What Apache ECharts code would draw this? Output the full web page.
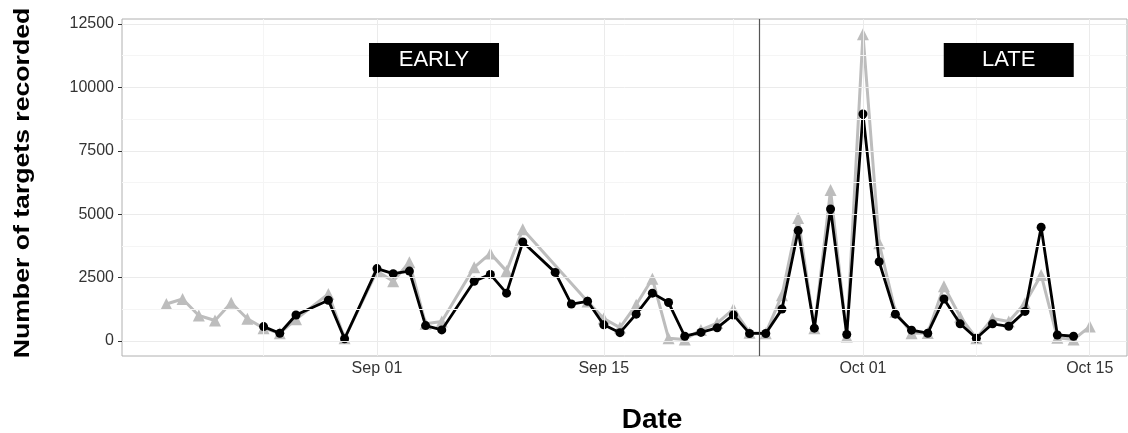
<!DOCTYPE html>
<html>
<head>
<meta charset="utf-8">
<script src="https://cdn.jsdelivr.net/npm/echarts@6/dist/echarts.min.js"></script>
<style>html,body{margin:0;padding:0;background:#fff;}#c{width:1128px;height:433px;}</style>
</head>
<body>
<div id="c"></div>
<script>
const dates = [
 '2015-08-19','2015-08-20','2015-08-21','2015-08-22','2015-08-23','2015-08-24','2015-08-25','2015-08-26','2015-08-27','2015-08-28','2015-08-29','2015-08-30','2015-08-31',
 '2015-09-01','2015-09-02','2015-09-03','2015-09-04','2015-09-05','2015-09-06','2015-09-07','2015-09-08','2015-09-09','2015-09-10',
 '2015-09-11','2015-09-12','2015-09-13',
 '2015-09-14','2015-09-15','2015-09-16','2015-09-17','2015-09-18','2015-09-19','2015-09-20','2015-09-21','2015-09-22','2015-09-23',
 '2015-09-24','2015-09-25','2015-09-26','2015-09-27','2015-09-28','2015-09-29','2015-09-30','2015-10-01','2015-10-02','2015-10-03',
 '2015-10-04','2015-10-05','2015-10-06','2015-10-07','2015-10-08','2015-10-09','2015-10-10','2015-10-11','2015-10-12','2015-10-13','2015-10-14','2015-10-15'
];
const greyValues = [
 1450,1650,1000,800,1500,870,500,300,850,null,1850,100,null,
 2750,2350,3100,670,760,null,2900,3450,2750,4400,
 null,null,null,
 1550,880,520,1420,2450,100,50,430,700,1250,
 320,300,1800,4850,500,5950,170,12100,3850,1150,
 300,310,2150,950,100,880,760,1480,2600,120,50,560
];
const blackValues = [
 null,null,null,null,null,null,560,300,1020,null,1600,80,null,
 2850,2650,2750,600,430,null,2350,2620,1880,3900,
 null,2700,1450,
 1560,630,320,1050,1880,1510,180,330,510,1020,
 290,290,1250,4350,500,5200,250,8950,3120,1050,
 420,300,1650,670,100,670,570,1160,4480,230,180,null
];
const xTickDates = ['2015-09-01','2015-09-15','2015-10-01','2015-10-15'];
const xTickLabels = ['Sep 01','Sep 15','Oct 01','Oct 15'];
const xMinorDates = ['2015-08-25','2015-09-08','2015-09-23','2015-10-08'];
const yTicks = [0,2500,5000,7500,10000,12500];
const yMinor = [1250,3750,6250,8750,11250];
const splitDate = '2015-09-24 14:24';
const periodLabels = [
  {text:'EARLY', date:'2015-09-04 12:30', value:11080},
  {text:'LATE', date:'2015-10-10 00:00', value:11080}
];

function ts(s){ const p = s.split(/[- :]/).map(Number); return Date.UTC(p[0], p[1]-1, p[2], p[3]||0, p[4]||0); }
const xTickTs = xTickDates.map(ts);
const FONT = "'Liberation Sans', Arial, sans-serif";

const gridLines = [];
xTickDates.forEach(d => gridLines.push({xAxis: ts(d), lineStyle:{color:'#ebebeb', width:1, type:'solid'}}));
xMinorDates.forEach(d => gridLines.push({xAxis: ts(d), lineStyle:{color:'#f5f5f5', width:1, type:'solid'}}));
yTicks.forEach(v => gridLines.push({yAxis: v, lineStyle:{color:'#ebebeb', width:1, type:'solid'}}));
yMinor.forEach(v => gridLines.push({yAxis: v, lineStyle:{color:'#f5f5f5', width:1, type:'solid'}}));

const chart = echarts.init(document.getElementById('c'), null, {renderer:'canvas'});
const option = {
  animation: false,
  backgroundColor: '#ffffff',
  grid: {left:122, right:1, top:19, bottom:77, show:true, borderColor:'#b0b0b0', borderWidth:1, backgroundColor:'#fff', containLabel:false},
  xAxis: {
    type:'value', min: ts('2015-08-16 06:14'), max: ts('2015-10-17 07:12'),
    axisLine:{show:false},
    axisTick:{show:true, length:4, lineStyle:{color:'#333'}, customValues: xTickTs},
    axisLabel:{customValues: xTickTs, color:'#333', fontSize:16, fontFamily:FONT, margin:5,
      formatter: function(v){ const i = xTickTs.indexOf(v); return i>=0 ? xTickLabels[i] : ''; }},
    splitLine:{show:false}
  },
  yAxis: {
    type:'value', min:-600, max:12700,
    axisLine:{show:false},
    axisTick:{show:true, length:4, lineStyle:{color:'#333'}, customValues: yTicks},
    axisLabel:{customValues: yTicks, color:'#333', fontSize:16, fontFamily:FONT, margin:8,
      formatter: function(v){ return String(v); }},
    splitLine:{show:false}
  },
  series: [
    {type:'line', z:1, data:[], silent:true,
     markLine:{silent:true, symbol:['none','none'], label:{show:false}, animation:false, data: gridLines.concat([
       {xAxis: ts(splitDate), lineStyle:{color:'#555', width:1.2, type:'solid'}}
     ])}},
    {type:'line', name:'grey', z:2, connectNulls:true,
     data: dates.map((d,i)=>[ts(d), greyValues[i]]),
     symbol:'triangle', symbolSize:12, showAllSymbol:true,
     lineStyle:{color:'#bdbdbd', width:3}, itemStyle:{color:'#bdbdbd'}},
    {type:'line', name:'black', z:3, connectNulls:true,
     data: dates.map((d,i)=>[ts(d), blackValues[i]]),
     symbol:'circle', symbolSize:9, showAllSymbol:true,
     lineStyle:{color:'#000', width:2.8}, itemStyle:{color:'#000'}}
  ]
};
chart.setOption(option);

const gfx = [];
periodLabels.forEach(p => {
  const c = chart.convertToPixel({gridIndex:0}, [ts(p.date), p.value]);
  gfx.push({type:'rect', shape:{x:c[0]-65, y:c[1]-17, width:130, height:34}, style:{fill:'#000'}, z:10});
  gfx.push({type:'text', x:c[0], y:c[1], style:{text:p.text, fill:'#fff', font:"22px " + FONT, align:'center', verticalAlign:'middle'}, z:11});
});
gfx.push({type:'text', x:23, y:183, rotation:Math.PI/2, style:{text:'Number of targets recorded', fill:'#000', font:"bold 22px " + FONT, align:'center', verticalAlign:'middle'}, scaleX:1.21});
gfx.push({type:'text', x:652, y:420, style:{text:'Date', fill:'#000', font:"bold 28px " + FONT, align:'center', verticalAlign:'middle'}});
chart.setOption({graphic: gfx});
</script>
</body>
</html>
